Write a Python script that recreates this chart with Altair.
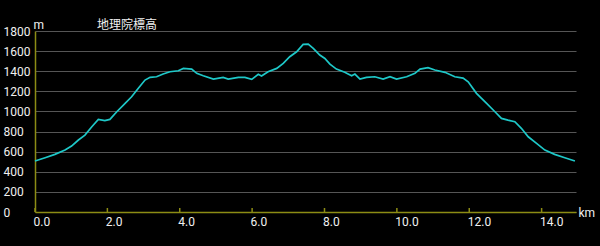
import altair as alt
import pandas as pd

dist_km = [0.0, 0.28, 0.55, 0.83, 1.01, 1.2, 1.38, 1.57, 1.75, 1.93, 2.07, 2.26, 2.49, 2.67,
           2.85, 3.04, 3.18, 3.36, 3.54, 3.73, 3.96, 4.1, 4.33, 4.47, 4.65, 4.93, 5.2, 5.34,
           5.62, 5.8, 5.99, 6.17, 6.26, 6.44, 6.68, 6.86, 7.04, 7.23, 7.41, 7.55, 7.69, 7.87,
           8.01, 8.15, 8.33, 8.56, 8.75, 8.84, 8.98, 9.16, 9.39, 9.62, 9.81, 9.99, 10.27, 10.5,
           10.64, 10.86, 11.05, 11.33, 11.6, 11.83, 11.97, 12.2, 12.48, 12.71, 12.89, 13.07,
           13.26, 13.44, 13.63, 13.86, 14.09, 14.36, 14.64, 14.92]
elev_m = [507, 540, 573, 616, 656, 716, 765, 848, 921, 908, 921, 997, 1080, 1146,
          1229, 1312, 1339, 1345, 1372, 1395, 1405, 1428, 1421, 1379, 1355, 1322, 1339, 1322,
          1339, 1339, 1319, 1369, 1352, 1395, 1428, 1478, 1544, 1593, 1667, 1670, 1627, 1561,
          1527, 1470, 1421, 1389, 1355, 1372, 1322, 1339, 1345, 1322, 1345, 1322, 1345, 1379,
          1421, 1435, 1412, 1389, 1345, 1332, 1295, 1180, 1080, 997, 931, 914,
          898, 832, 748, 683, 616, 573, 540, 507]
x_ticks = [0, 2, 4, 6, 8, 10, 12, 14]
y_ticks = [0, 200, 400, 600, 800, 1000, 1200, 1400, 1600, 1800]

df = pd.DataFrame({"d": dist_km, "e": elev_m})
ticks_df = pd.DataFrame({"d": x_ticks})

W, H = 541, 181
AXIS_COL = "#8c8c14"
xscale = alt.Scale(domain=[0, 14.95], nice=False, zero=False)
yscale = alt.Scale(domain=[0, 1800], nice=False)

x_axis = alt.Axis(values=x_ticks, format=".1f", title="km", grid=False, ticks=False,
                  tickSize=0, labelAlign="left", labelOffset=-2, labelPadding=4,
                  labelBaseline="top", domainColor=AXIS_COL, domainWidth=1.5,
                  titleX=543, titleY=4, titleAlign="left", titleBaseline="alphabetic")
y_axis = alt.Axis(values=y_ticks, format="d", title="m", grid=True, gridColor="#555555",
                  gridWidth=1, ticks=False, tickSize=0, labelAlign="left", labelPadding=32,
                  domainColor=AXIS_COL, domainWidth=1.5, titleAngle=0, titleX=-2,
                  titleY=-3, titleAlign="left", titleBaseline="alphabetic")

line = alt.Chart(df).mark_line(color="#1ec8c8", strokeWidth=1.7).encode(
    x=alt.X("d:Q", scale=xscale, axis=x_axis),
    y=alt.Y("e:Q", scale=yscale, axis=y_axis),
)
tick_marks = alt.Chart(ticks_df).mark_rule(color=AXIS_COL, strokeWidth=1.5).encode(
    x=alt.X("d:Q", scale=xscale, axis=x_axis),
    y=alt.value(H - 4),
    y2=alt.value(H),
)

chart = alt.layer(line, tick_marks).properties(
    width=W, height=H,
    title=alt.TitleParams("地理院標高", anchor="start", frame="group", dx=62, dy=14,
                          font="Noto Sans CJK JP", fontSize=12, fontWeight="normal",
                          color="#f0f0f0", offset=0),
    background="black",
    autosize=alt.AutoSizeParams(type="none"),
    padding={"left": 35, "top": 31, "right": 24, "bottom": 34},
).configure_view(stroke=None).configure_axis(
    labelColor="#f0f0f0", labelFont="Roboto", labelFontSize=12,
    titleColor="#f0f0f0", titleFont="Roboto", titleFontSize=12, titleFontWeight="normal",
)

chart.save("out.html", embed_options={"renderer": "svg", "actions": False})
